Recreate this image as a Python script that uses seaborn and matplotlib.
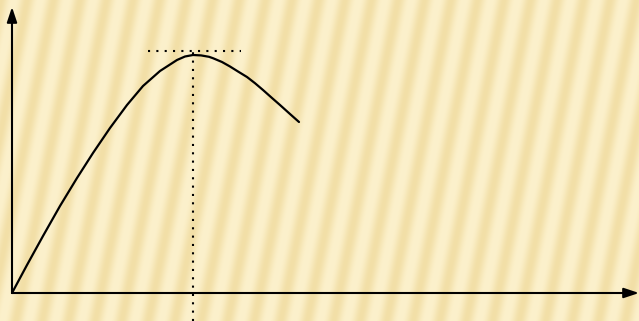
import numpy as np
import pandas as pd
import matplotlib
matplotlib.use('Agg')
import matplotlib.pyplot as plt
import seaborn as sns

# curve (units = pixels from the axis origin)
curve_x = [0, 15, 31, 48, 65, 81, 98, 115, 131, 148, 165, 173, 181,
           189, 197, 201, 210, 218, 226, 235, 243, 251, 260, 268, 278, 287]
curve_y = [0, 28, 57, 87, 115, 140, 165, 188, 207, 222, 233, 236.5, 238,
           237.6, 236.2, 234.8, 231, 226.5, 221.5, 216, 209.8, 203, 195,
           188, 179, 171]

peak_x = 181
peak_y = 242
peak_span = [136, 229]

x_axis_end = 627
y_axis_end = 286

W, H = 639, 321
XLIM = (-12, 627)
YLIM = (-28, 293)

LIGHT = np.array([252, 241, 204]) / 255
DARK = np.array([242, 223, 167]) / 255


def stripe_background():
    '''
    Builds the diagonal striped paper texture
    '''
    xx, yy = np.meshgrid(np.arange(W), np.arange(H))
    phase = (xx + 0.2 * yy) / 26.5
    t = (0.5 + 0.5 * np.cos(2 * np.pi * phase)) ** 1.3
    img = LIGHT[None, None, :] + (DARK - LIGHT)[None, None, :] * t[..., None]
    return img


def main():
    sns.set_style('white')

    fig = plt.figure(figsize=(W / 100, H / 100), dpi=100)
    ax = fig.add_axes([0, 0, 1, 1])
    ax.set_xlim(*XLIM)
    ax.set_ylim(*YLIM)
    ax.axis('off')

    ax.imshow(stripe_background(), extent=(XLIM[0], XLIM[1],
                                           YLIM[0], YLIM[1]),
              aspect='auto', zorder=0)

    df = pd.DataFrame({'x': curve_x, 'y': curve_y})
    sns.lineplot(data=df, x='x', y='y', sort=False, estimator=None,
                 color='black', linewidth=1.6, ax=ax, zorder=3,
                 solid_joinstyle='round', solid_capstyle='round')

    # dotted guide lines at the maximum
    dots = dict(color='black', linewidth=1.5, linestyle=(0, (1, 3)),
                zorder=2)
    ax.hlines(peak_y, peak_span[0], peak_span[1], **dots)
    ax.vlines(peak_x, YLIM[0], peak_y, **dots)

    # axes with arrow heads
    arrow = dict(arrowstyle='-|>,head_length=0.6,head_width=0.2',
                 color='black', lw=1.5, mutation_scale=15,
                 shrinkA=0, shrinkB=0)
    ax.annotate('', xy=(0, y_axis_end), xytext=(0, 0), arrowprops=arrow,
                zorder=4)
    ax.annotate('', xy=(x_axis_end, 0), xytext=(0, 0), arrowprops=arrow,
                zorder=4)

    fig.savefig('out.png', dpi=100)


if __name__ == '__main__':
    main()
